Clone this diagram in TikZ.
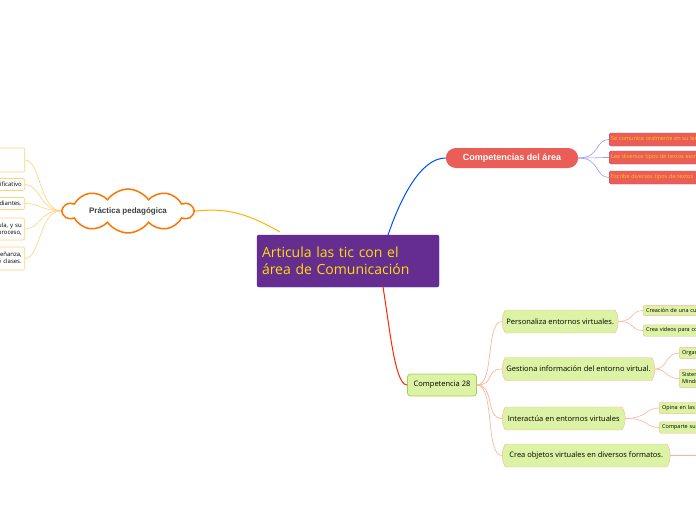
\documentclass[tikz,border=0pt]{standalone}
\usepackage{fontspec}
\setmainfont{Open Sans}
\newfontfamily\hv{Liberation Sans}
\usetikzlibrary{shapes.symbols,shapes.misc}
\definecolor{purp}{HTML}{662D91}
\definecolor{redc}{HTML}{EA5E57}
\definecolor{gfill}{HTML}{DCF2A4}
\definecolor{gline}{HTML}{A6CF55}
\definecolor{sal}{HTML}{FBB59A}
\definecolor{pale}{HTML}{FFD27A}
\tikzset{
 leaf/.style={draw=pale,fill=white,rounded corners=2pt,line width=0.6pt,font=\fontsize{6}{7}\selectfont,align=right,text width=120pt,inner sep=3pt,anchor=east},
 rleaf/.style={draw=redc!80!blue,fill=redc,rounded corners=1.5pt,font=\fontsize{5.5}{6}\selectfont,text=orange!40!yellow,anchor=west,minimum height=13pt,text width=140pt,align=left,inner sep=2pt},
 gnode/.style={draw=sal,fill=gfill,rounded rectangle,rounded rectangle arc length=60,font=\fontsize{7.5}{9}\selectfont,inner sep=4pt,anchor=west,minimum height=23pt},
 gleaf/.style={draw=sal,fill=gfill,rounded corners=2pt,font=\fontsize{5.5}{7}\selectfont,anchor=west,align=left,inner sep=3pt,text width=110pt},
 sl/.style={draw=sal,line width=0.6pt},
}
\begin{document}
\begin{tikzpicture}[x=1pt,y=-1pt]
\useasboundingbox (0,0) rectangle (696,520);
\clip (0,0) rectangle (696,520);
% central
\node[fill=purp,draw=purp!70!blue,rounded corners=2pt,minimum width=182pt,minimum height=52pt,text=yellow!80!orange,align=left,font=\fontsize{14}{17}\selectfont,text width=172pt] (c) at (348,261) {Articula las tic con el\\área de Comunicación};
% competencias
\node[fill=redc,rounded rectangle,minimum width=139pt,minimum height=20pt,text=white,font=\hv\bfseries\fontsize{9}{10}\selectfont] (ca) at (512,158) {Competencias del área};
\draw[blue!70!cyan,line width=1pt] (388,235) .. controls (400,200) and (420,158) .. (ca.west);
\node[rleaf] (r1) at (609,139.5) {Se comunica oralmente en su lengua materna};
\node[rleaf] (r2) at (609,157.5) {Lee diversos tipos de textos escritos};
\node[rleaf] (r3) at (609,177.5) {Escribe diversos tipos de textos};
\foreach \r in {r1,r2,r3}\draw[blue!40,line width=0.6pt] (ca.east) .. controls (600,158) and (595,0|-\r.west) .. (\r.west);
% practica
\node[cloud,cloud puffs=10,cloud puff arc=110,aspect=4,draw=orange!90!red,line width=1.5pt,fill=white,minimum width=130pt,minimum height=40pt,inner sep=0pt,font=\hv\bfseries\fontsize{8}{10}\selectfont,text=black!75] (pp) at (128,211) {Práctica pedagógica};
\draw[orange!60!yellow,line width=1pt] (280,232) .. controls (245,212) and (225,208) .. (pp.east);
\node[leaf,minimum height=24pt] (l1) at (25,160) {};
\node[leaf] (l2) at (25,184.5) {Contenido significativo};
\node[leaf] (l3) at (25,203.5) {Trabajo con estudiantes.};
\node[leaf,minimum height=22pt] (l4) at (25,229) {Uso de la tecnología en el aula, y su\\ proceso,};
\node[leaf,minimum height=23pt] (l5) at (25,258.5) {Ambientes de la enseñanza,\\ estrategias y recursos de clases.};
\foreach \l in {l1,l2,l3,l4,l5}\draw[pale,line width=0.6pt] (pp.west) .. controls (40,210) and (40,0|-\l.east) .. (\l.east);
% competencia 28
\node[draw=gline,fill=gfill,rounded corners=3pt,line width=0.8pt,minimum width=69pt,minimum height=22pt,font=\fontsize{7.5}{9}\selectfont] (k) at (442,385) {Competencia 28};
\draw[red!70!orange,line width=1pt] (383,287) .. controls (390,330) and (395,385) .. (k.west);
\node[gnode,minimum width=115pt] (g1) at (502,321.5) {Personaliza entornos virtuales.};
\node[gnode,minimum width=151pt] (g2) at (502,369) {Gestiona información del entorno virtual.};
\node[gnode,minimum width=131pt] (g3) at (502,418.5) {Interactúa en entornos virtuales};
\node[gnode,minimum width=176pt] (g4) at (502,455.5) {Crea objetos virtuales en diversos formatos.};
\foreach \g in {g1,g2,g3,g4}\draw[sal,line width=0.7pt] (k.east) .. controls (495,385) and (485,0|-\g.west) .. (\g.west);
\node[gleaf] (h1) at (643,310.5) {Creación de una cuenta};
\node[gleaf] (h2) at (643,330.5) {Crea videos para compartir};
\node[gleaf] (h3) at (679,353) {Organiza};
\node[gleaf] (h4) at (679,378.5) {Sistematiza\\Mindmaps};
\node[gleaf] (h5) at (659,408) {Opina en las redes};
\node[gleaf] (h6) at (659,427.5) {Comparte su trabajo};
\draw[sl] (g1.east) .. controls (635,321) and (630,0|-h1.west) .. (h1.west);
\draw[sl] (g1.east) .. controls (635,321) and (630,0|-h2.west) .. (h2.west);
\draw[sl] (g2.east) .. controls (668,369) and (665,0|-h3.west) .. (h3.west);
\draw[sl] (g2.east) .. controls (668,369) and (665,0|-h4.west) .. (h4.west);
\draw[sl] (g3.east) .. controls (648,418) and (645,0|-h5.west) .. (h5.west);
\draw[sl] (g3.east) .. controls (648,418) and (645,0|-h6.west) .. (h6.west);
\coordinate (e4) at (700,455.5);
\draw[sal,line width=0.7pt] (g4.east) -- (e4);
\end{tikzpicture}
\end{document}
